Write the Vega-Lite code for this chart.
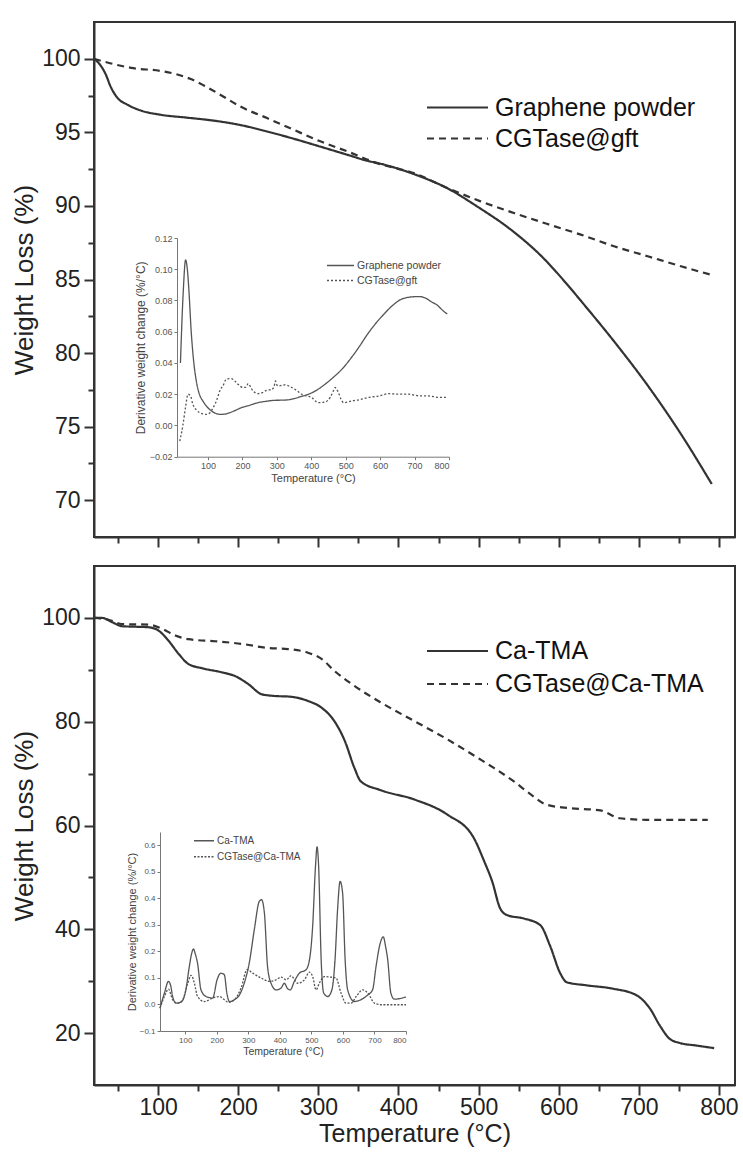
{
  "$schema": "https://vega.github.io/schema/vega-lite/v6.json",
  "padding": {"left": 10, "top": 21, "right": 5, "bottom": 0},
  "background": "white",
  "config": {
    "view": {"stroke": "#333", "strokeWidth": 2},
    "axis": {"grid": false, "labelFont": "Liberation Sans", "titleFont": "Liberation Sans", "titleFontWeight": "normal"}
  },
  "datasets": {
    "topMain": [
      {"series": "Graphene powder", "t": 20, "w": 100}, {"series": "Graphene powder", "t": 27.5, "w": 99.6}, {"series": "Graphene powder", "t": 35, "w": 98.9}, {"series": "Graphene powder", "t": 40, "w": 98.2}, {"series": "Graphene powder", "t": 50, "w": 97.3}, {"series": "Graphene powder", "t": 61, "w": 96.9}, {"series": "Graphene powder", "t": 77.5, "w": 96.5}, {"series": "Graphene powder", "t": 102.5, "w": 96.2}, {"series": "Graphene powder", "t": 136, "w": 96.0}, {"series": "Graphene powder", "t": 169, "w": 95.8}, {"series": "Graphene powder", "t": 202.5, "w": 95.5}, {"series": "Graphene powder", "t": 236, "w": 95.06}, {"series": "Graphene powder", "t": 269, "w": 94.57}, {"series": "Graphene powder", "t": 302.5, "w": 94.03}, {"series": "Graphene powder", "t": 336, "w": 93.48}, {"series": "Graphene powder", "t": 361, "w": 93.07}, {"series": "Graphene powder", "t": 377.5, "w": 92.87}, {"series": "Graphene powder", "t": 419, "w": 92.17}, {"series": "Graphene powder", "t": 461, "w": 91.2}, {"series": "Graphene powder", "t": 500, "w": 89.9}, {"series": "Graphene powder", "t": 540, "w": 88.4}, {"series": "Graphene powder", "t": 580, "w": 86.5}, {"series": "Graphene powder", "t": 610, "w": 84.7}, {"series": "Graphene powder", "t": 630, "w": 83.4}, {"series": "Graphene powder", "t": 669, "w": 80.8}, {"series": "Graphene powder", "t": 711, "w": 77.8}, {"series": "Graphene powder", "t": 752.5, "w": 74.5}, {"series": "Graphene powder", "t": 791, "w": 71.1},
      {"series": "CGTase@gft", "t": 20, "w": 100}, {"series": "CGTase@gft", "t": 40, "w": 99.7}, {"series": "CGTase@gft", "t": 69, "w": 99.36}, {"series": "CGTase@gft", "t": 102.5, "w": 99.18}, {"series": "CGTase@gft", "t": 123, "w": 98.95}, {"series": "CGTase@gft", "t": 140, "w": 98.64}, {"series": "CGTase@gft", "t": 157, "w": 98.19}, {"series": "CGTase@gft", "t": 177.5, "w": 97.56}, {"series": "CGTase@gft", "t": 202.5, "w": 96.76}, {"series": "CGTase@gft", "t": 236, "w": 95.97}, {"series": "CGTase@gft", "t": 269, "w": 95.18}, {"series": "CGTase@gft", "t": 302.5, "w": 94.39}, {"series": "CGTase@gft", "t": 336, "w": 93.71}, {"series": "CGTase@gft", "t": 373, "w": 92.91}, {"series": "CGTase@gft", "t": 419, "w": 92.23}, {"series": "CGTase@gft", "t": 461, "w": 91.22}, {"series": "CGTase@gft", "t": 502.5, "w": 90.31}, {"series": "CGTase@gft", "t": 544, "w": 89.52}, {"series": "CGTase@gft", "t": 586, "w": 88.77}, {"series": "CGTase@gft", "t": 627.5, "w": 88.05}, {"series": "CGTase@gft", "t": 669, "w": 87.26}, {"series": "CGTase@gft", "t": 711, "w": 86.58}, {"series": "CGTase@gft", "t": 752.5, "w": 85.9}, {"series": "CGTase@gft", "t": 792, "w": 85.29}
    ],
    "topInset": [
      {"series": "Graphene powder", "t": 20, "d": 0.040}, {"series": "Graphene powder", "t": 28, "d": 0.085}, {"series": "Graphene powder", "t": 35, "d": 0.106}, {"series": "Graphene powder", "t": 40, "d": 0.100}, {"series": "Graphene powder", "t": 45, "d": 0.085}, {"series": "Graphene powder", "t": 51, "d": 0.061}, {"series": "Graphene powder", "t": 58, "d": 0.042}, {"series": "Graphene powder", "t": 66, "d": 0.0285}, {"series": "Graphene powder", "t": 75, "d": 0.020}, {"series": "Graphene powder", "t": 85, "d": 0.0157}, {"series": "Graphene powder", "t": 97, "d": 0.012}, {"series": "Graphene powder", "t": 110, "d": 0.0093}, {"series": "Graphene powder", "t": 122, "d": 0.0078}, {"series": "Graphene powder", "t": 134, "d": 0.0071}, {"series": "Graphene powder", "t": 146, "d": 0.0072}, {"series": "Graphene powder", "t": 158, "d": 0.0078}, {"series": "Graphene powder", "t": 178, "d": 0.0095}, {"series": "Graphene powder", "t": 197, "d": 0.0114}, {"series": "Graphene powder", "t": 222, "d": 0.013}, {"series": "Graphene powder", "t": 246, "d": 0.0146}, {"series": "Graphene powder", "t": 270, "d": 0.0155}, {"series": "Graphene powder", "t": 294, "d": 0.0161}, {"series": "Graphene powder", "t": 320, "d": 0.0162}, {"series": "Graphene powder", "t": 343, "d": 0.0168}, {"series": "Graphene powder", "t": 370, "d": 0.0185}, {"series": "Graphene powder", "t": 392, "d": 0.020}, {"series": "Graphene powder", "t": 415, "d": 0.0225}, {"series": "Graphene powder", "t": 440, "d": 0.0264}, {"series": "Graphene powder", "t": 465, "d": 0.031}, {"series": "Graphene powder", "t": 489, "d": 0.036}, {"series": "Graphene powder", "t": 515, "d": 0.043}, {"series": "Graphene powder", "t": 538, "d": 0.050}, {"series": "Graphene powder", "t": 562, "d": 0.058}, {"series": "Graphene powder", "t": 586, "d": 0.065}, {"series": "Graphene powder", "t": 610, "d": 0.071}, {"series": "Graphene powder", "t": 635, "d": 0.0766}, {"series": "Graphene powder", "t": 664, "d": 0.081}, {"series": "Graphene powder", "t": 698, "d": 0.0824}, {"series": "Graphene powder", "t": 715, "d": 0.0825}, {"series": "Graphene powder", "t": 732, "d": 0.0815}, {"series": "Graphene powder", "t": 750, "d": 0.079}, {"series": "Graphene powder", "t": 766, "d": 0.077}, {"series": "Graphene powder", "t": 780, "d": 0.074}, {"series": "Graphene powder", "t": 795, "d": 0.0713},
      {"series": "CGTase@gft", "t": 18, "d": -0.010}, {"series": "CGTase@gft", "t": 27, "d": 0.000}, {"series": "CGTase@gft", "t": 35, "d": 0.012}, {"series": "CGTase@gft", "t": 42, "d": 0.020}, {"series": "CGTase@gft", "t": 49, "d": 0.019}, {"series": "CGTase@gft", "t": 56, "d": 0.0136}, {"series": "CGTase@gft", "t": 66, "d": 0.010}, {"series": "CGTase@gft", "t": 76, "d": 0.0082}, {"series": "CGTase@gft", "t": 95, "d": 0.0071}, {"series": "CGTase@gft", "t": 105, "d": 0.008}, {"series": "CGTase@gft", "t": 115, "d": 0.0114}, {"series": "CGTase@gft", "t": 125, "d": 0.016}, {"series": "CGTase@gft", "t": 134, "d": 0.022}, {"series": "CGTase@gft", "t": 145, "d": 0.026}, {"series": "CGTase@gft", "t": 153, "d": 0.0296}, {"series": "CGTase@gft", "t": 168, "d": 0.030}, {"series": "CGTase@gft", "t": 180, "d": 0.028}, {"series": "CGTase@gft", "t": 187, "d": 0.0264}, {"series": "CGTase@gft", "t": 202, "d": 0.0243}, {"series": "CGTase@gft", "t": 210, "d": 0.0245}, {"series": "CGTase@gft", "t": 217, "d": 0.0268}, {"series": "CGTase@gft", "t": 224, "d": 0.0245}, {"series": "CGTase@gft", "t": 231, "d": 0.022}, {"series": "CGTase@gft", "t": 246, "d": 0.0204}, {"series": "CGTase@gft", "t": 258, "d": 0.021}, {"series": "CGTase@gft", "t": 270, "d": 0.0225}, {"series": "CGTase@gft", "t": 285, "d": 0.023}, {"series": "CGTase@gft", "t": 292, "d": 0.025}, {"series": "CGTase@gft", "t": 296, "d": 0.0285}, {"series": "CGTase@gft", "t": 300, "d": 0.026}, {"series": "CGTase@gft", "t": 304, "d": 0.0253}, {"series": "CGTase@gft", "t": 324, "d": 0.026}, {"series": "CGTase@gft", "t": 343, "d": 0.0243}, {"series": "CGTase@gft", "t": 360, "d": 0.022}, {"series": "CGTase@gft", "t": 372, "d": 0.020}, {"series": "CGTase@gft", "t": 385, "d": 0.019}, {"series": "CGTase@gft", "t": 401, "d": 0.018}, {"series": "CGTase@gft", "t": 410, "d": 0.016}, {"series": "CGTase@gft", "t": 421, "d": 0.0146}, {"series": "CGTase@gft", "t": 440, "d": 0.015}, {"series": "CGTase@gft", "t": 455, "d": 0.018}, {"series": "CGTase@gft", "t": 464, "d": 0.022}, {"series": "CGTase@gft", "t": 469, "d": 0.0243}, {"series": "CGTase@gft", "t": 474, "d": 0.023}, {"series": "CGTase@gft", "t": 479, "d": 0.021}, {"series": "CGTase@gft", "t": 486, "d": 0.017}, {"series": "CGTase@gft", "t": 494, "d": 0.0146}, {"series": "CGTase@gft", "t": 518, "d": 0.0157}, {"series": "CGTase@gft", "t": 540, "d": 0.0165}, {"series": "CGTase@gft", "t": 567, "d": 0.018}, {"series": "CGTase@gft", "t": 600, "d": 0.019}, {"series": "CGTase@gft", "t": 625, "d": 0.0204}, {"series": "CGTase@gft", "t": 650, "d": 0.020}, {"series": "CGTase@gft", "t": 683, "d": 0.020}, {"series": "CGTase@gft", "t": 712, "d": 0.019}, {"series": "CGTase@gft", "t": 741, "d": 0.0189}, {"series": "CGTase@gft", "t": 770, "d": 0.018}, {"series": "CGTase@gft", "t": 795, "d": 0.018}
    ],
    "botMain": [
      {"series": "Ca-TMA", "t": 20, "w": 100}, {"series": "Ca-TMA", "t": 30, "w": 100}, {"series": "Ca-TMA", "t": 43, "w": 99.15}, {"series": "Ca-TMA", "t": 55, "w": 98.4}, {"series": "Ca-TMA", "t": 72, "w": 98.3}, {"series": "Ca-TMA", "t": 88, "w": 98.2}, {"series": "Ca-TMA", "t": 101, "w": 97.5}, {"series": "Ca-TMA", "t": 113, "w": 95.6}, {"series": "Ca-TMA", "t": 126, "w": 93.0}, {"series": "Ca-TMA", "t": 138, "w": 91.1}, {"series": "Ca-TMA", "t": 155, "w": 90.3}, {"series": "Ca-TMA", "t": 180, "w": 89.5}, {"series": "Ca-TMA", "t": 196, "w": 88.8}, {"series": "Ca-TMA", "t": 213, "w": 87.2}, {"series": "Ca-TMA", "t": 229, "w": 85.3}, {"series": "Ca-TMA", "t": 242, "w": 85.0}, {"series": "Ca-TMA", "t": 266, "w": 84.8}, {"series": "Ca-TMA", "t": 287, "w": 84.0}, {"series": "Ca-TMA", "t": 304, "w": 82.7}, {"series": "Ca-TMA", "t": 320, "w": 80.1}, {"series": "Ca-TMA", "t": 333, "w": 76.3}, {"series": "Ca-TMA", "t": 345, "w": 71.1}, {"series": "Ca-TMA", "t": 353, "w": 68.5}, {"series": "Ca-TMA", "t": 378, "w": 66.8}, {"series": "Ca-TMA", "t": 420, "w": 65.0}, {"series": "Ca-TMA", "t": 461, "w": 62.1}, {"series": "Ca-TMA", "t": 494, "w": 57.6}, {"series": "Ca-TMA", "t": 507, "w": 53.1}, {"series": "Ca-TMA", "t": 517, "w": 49.2}, {"series": "Ca-TMA", "t": 527, "w": 44.0}, {"series": "Ca-TMA", "t": 536, "w": 42.7}, {"series": "Ca-TMA", "t": 556, "w": 42.1}, {"series": "Ca-TMA", "t": 577, "w": 40.8}, {"series": "Ca-TMA", "t": 589, "w": 36.9}, {"series": "Ca-TMA", "t": 602, "w": 31.5}, {"series": "Ca-TMA", "t": 610, "w": 29.8}, {"series": "Ca-TMA", "t": 635, "w": 29.2}, {"series": "Ca-TMA", "t": 668, "w": 28.55}, {"series": "Ca-TMA", "t": 697, "w": 27.3}, {"series": "Ca-TMA", "t": 714, "w": 24.7}, {"series": "Ca-TMA", "t": 726, "w": 21.5}, {"series": "Ca-TMA", "t": 738.5, "w": 18.9}, {"series": "Ca-TMA", "t": 751, "w": 18.1}, {"series": "Ca-TMA", "t": 772, "w": 17.6}, {"series": "Ca-TMA", "t": 794, "w": 17.1},
      {"series": "CGTase@Ca-TMA", "t": 20, "w": 100}, {"series": "CGTase@Ca-TMA", "t": 39, "w": 99.6}, {"series": "CGTase@Ca-TMA", "t": 55, "w": 98.8}, {"series": "CGTase@Ca-TMA", "t": 88, "w": 98.7}, {"series": "CGTase@Ca-TMA", "t": 105, "w": 97.9}, {"series": "CGTase@Ca-TMA", "t": 121.5, "w": 96.6}, {"series": "CGTase@Ca-TMA", "t": 138, "w": 95.9}, {"series": "CGTase@Ca-TMA", "t": 171, "w": 95.5}, {"series": "CGTase@Ca-TMA", "t": 204, "w": 95.0}, {"series": "CGTase@Ca-TMA", "t": 237.5, "w": 94.2}, {"series": "CGTase@Ca-TMA", "t": 262, "w": 94.0}, {"series": "CGTase@Ca-TMA", "t": 287, "w": 93.3}, {"series": "CGTase@Ca-TMA", "t": 304, "w": 92.1}, {"series": "CGTase@Ca-TMA", "t": 320, "w": 89.8}, {"series": "CGTase@Ca-TMA", "t": 345, "w": 86.9}, {"series": "CGTase@Ca-TMA", "t": 378, "w": 83.7}, {"series": "CGTase@Ca-TMA", "t": 420, "w": 80.1}, {"series": "CGTase@Ca-TMA", "t": 461, "w": 76.6}, {"series": "CGTase@Ca-TMA", "t": 502.5, "w": 72.7}, {"series": "CGTase@Ca-TMA", "t": 519, "w": 71.1}, {"series": "CGTase@Ca-TMA", "t": 544, "w": 68.5}, {"series": "CGTase@Ca-TMA", "t": 565, "w": 66.0}, {"series": "CGTase@Ca-TMA", "t": 585, "w": 64.0}, {"series": "CGTase@Ca-TMA", "t": 610, "w": 63.4}, {"series": "CGTase@Ca-TMA", "t": 652, "w": 62.9}, {"series": "CGTase@Ca-TMA", "t": 676, "w": 61.4}, {"series": "CGTase@Ca-TMA", "t": 710, "w": 61.1}, {"series": "CGTase@Ca-TMA", "t": 786, "w": 61.1}
    ],
    "botInset": [
      {"series": "Ca-TMA", "t": 20, "d": -0.014}, {"series": "Ca-TMA", "t": 34, "d": 0.043}, {"series": "Ca-TMA", "t": 47, "d": 0.087}, {"series": "Ca-TMA", "t": 55, "d": 0.065}, {"series": "Ca-TMA", "t": 60, "d": 0.03}, {"series": "Ca-TMA", "t": 71, "d": 0.005}, {"series": "Ca-TMA", "t": 87, "d": 0.009}, {"series": "Ca-TMA", "t": 102, "d": 0.055}, {"series": "Ca-TMA", "t": 113, "d": 0.143}, {"series": "Ca-TMA", "t": 120, "d": 0.19}, {"series": "Ca-TMA", "t": 126, "d": 0.209}, {"series": "Ca-TMA", "t": 132, "d": 0.19}, {"series": "Ca-TMA", "t": 139, "d": 0.156}, {"series": "Ca-TMA", "t": 150, "d": 0.055}, {"series": "Ca-TMA", "t": 166, "d": 0.03}, {"series": "Ca-TMA", "t": 187, "d": 0.024}, {"series": "Ca-TMA", "t": 201, "d": 0.093}, {"series": "Ca-TMA", "t": 213, "d": 0.118}, {"series": "Ca-TMA", "t": 224, "d": 0.112}, {"series": "Ca-TMA", "t": 232, "d": 0.043}, {"series": "Ca-TMA", "t": 240, "d": 0.011}, {"series": "Ca-TMA", "t": 256, "d": 0.018}, {"series": "Ca-TMA", "t": 272, "d": 0.036}, {"series": "Ca-TMA", "t": 287, "d": 0.08}, {"series": "Ca-TMA", "t": 303, "d": 0.156}, {"series": "Ca-TMA", "t": 319, "d": 0.282}, {"series": "Ca-TMA", "t": 335, "d": 0.389}, {"series": "Ca-TMA", "t": 342, "d": 0.395}, {"series": "Ca-TMA", "t": 351, "d": 0.345}, {"series": "Ca-TMA", "t": 361, "d": 0.143}, {"series": "Ca-TMA", "t": 372, "d": 0.08}, {"series": "Ca-TMA", "t": 388, "d": 0.055}, {"series": "Ca-TMA", "t": 404, "d": 0.062}, {"series": "Ca-TMA", "t": 414, "d": 0.08}, {"series": "Ca-TMA", "t": 425, "d": 0.059}, {"series": "Ca-TMA", "t": 433, "d": 0.055}, {"series": "Ca-TMA", "t": 446, "d": 0.087}, {"series": "Ca-TMA", "t": 462, "d": 0.118}, {"series": "Ca-TMA", "t": 483, "d": 0.131}, {"series": "Ca-TMA", "t": 494, "d": 0.169}, {"series": "Ca-TMA", "t": 504, "d": 0.294}, {"series": "Ca-TMA", "t": 513, "d": 0.52}, {"series": "Ca-TMA", "t": 518, "d": 0.594}, {"series": "Ca-TMA", "t": 523, "d": 0.52}, {"series": "Ca-TMA", "t": 531, "d": 0.169}, {"series": "Ca-TMA", "t": 539, "d": 0.043}, {"series": "Ca-TMA", "t": 552, "d": 0.03}, {"series": "Ca-TMA", "t": 565, "d": 0.055}, {"series": "Ca-TMA", "t": 575, "d": 0.169}, {"series": "Ca-TMA", "t": 583, "d": 0.357}, {"series": "Ca-TMA", "t": 591, "d": 0.464}, {"series": "Ca-TMA", "t": 599, "d": 0.42}, {"series": "Ca-TMA", "t": 607, "d": 0.169}, {"series": "Ca-TMA", "t": 615, "d": 0.055}, {"series": "Ca-TMA", "t": 636, "d": 0.011}, {"series": "Ca-TMA", "t": 657, "d": 0.018}, {"series": "Ca-TMA", "t": 679, "d": 0.036}, {"series": "Ca-TMA", "t": 694, "d": 0.055}, {"series": "Ca-TMA", "t": 705, "d": 0.143}, {"series": "Ca-TMA", "t": 716, "d": 0.22}, {"series": "Ca-TMA", "t": 728, "d": 0.255}, {"series": "Ca-TMA", "t": 735, "d": 0.22}, {"series": "Ca-TMA", "t": 742, "d": 0.169}, {"series": "Ca-TMA", "t": 752, "d": 0.043}, {"series": "Ca-TMA", "t": 763, "d": 0.02}, {"series": "Ca-TMA", "t": 800, "d": 0.028},
      {"series": "CGTase@Ca-TMA", "t": 20, "d": -0.014}, {"series": "CGTase@Ca-TMA", "t": 34, "d": 0.03}, {"series": "CGTase@Ca-TMA", "t": 47, "d": 0.058}, {"series": "CGTase@Ca-TMA", "t": 60, "d": 0.018}, {"series": "CGTase@Ca-TMA", "t": 76, "d": 0.005}, {"series": "CGTase@Ca-TMA", "t": 92, "d": 0.018}, {"series": "CGTase@Ca-TMA", "t": 108, "d": 0.08}, {"series": "CGTase@Ca-TMA", "t": 119, "d": 0.11}, {"series": "CGTase@Ca-TMA", "t": 129, "d": 0.08}, {"series": "CGTase@Ca-TMA", "t": 139, "d": 0.03}, {"series": "CGTase@Ca-TMA", "t": 161, "d": 0.011}, {"series": "CGTase@Ca-TMA", "t": 187, "d": 0.024}, {"series": "CGTase@Ca-TMA", "t": 208, "d": 0.03}, {"series": "CGTase@Ca-TMA", "t": 224, "d": 0.018}, {"series": "CGTase@Ca-TMA", "t": 237, "d": 0.008}, {"series": "CGTase@Ca-TMA", "t": 256, "d": 0.018}, {"series": "CGTase@Ca-TMA", "t": 277, "d": 0.062}, {"series": "CGTase@Ca-TMA", "t": 296, "d": 0.131}, {"series": "CGTase@Ca-TMA", "t": 314, "d": 0.118}, {"series": "CGTase@Ca-TMA", "t": 340, "d": 0.1}, {"series": "CGTase@Ca-TMA", "t": 367, "d": 0.087}, {"series": "CGTase@Ca-TMA", "t": 388, "d": 0.093}, {"series": "CGTase@Ca-TMA", "t": 404, "d": 0.103}, {"series": "CGTase@Ca-TMA", "t": 420, "d": 0.093}, {"series": "CGTase@Ca-TMA", "t": 435, "d": 0.108}, {"series": "CGTase@Ca-TMA", "t": 457, "d": 0.08}, {"series": "CGTase@Ca-TMA", "t": 478, "d": 0.093}, {"series": "CGTase@Ca-TMA", "t": 494, "d": 0.122}, {"series": "CGTase@Ca-TMA", "t": 504, "d": 0.105}, {"series": "CGTase@Ca-TMA", "t": 515, "d": 0.055}, {"series": "CGTase@Ca-TMA", "t": 525, "d": 0.08}, {"series": "CGTase@Ca-TMA", "t": 541, "d": 0.105}, {"series": "CGTase@Ca-TMA", "t": 562, "d": 0.103}, {"series": "CGTase@Ca-TMA", "t": 578, "d": 0.1}, {"series": "CGTase@Ca-TMA", "t": 594, "d": 0.043}, {"series": "CGTase@Ca-TMA", "t": 610, "d": 0.005}, {"series": "CGTase@Ca-TMA", "t": 626, "d": 0.005}, {"series": "CGTase@Ca-TMA", "t": 642, "d": 0.03}, {"series": "CGTase@Ca-TMA", "t": 663, "d": 0.055}, {"series": "CGTase@Ca-TMA", "t": 679, "d": 0.043}, {"series": "CGTase@Ca-TMA", "t": 700, "d": 0.005}, {"series": "CGTase@Ca-TMA", "t": 721, "d": -0.001}, {"series": "CGTase@Ca-TMA", "t": 800, "d": -0.001}
    ]
  },
  "vconcat": [
    {
      "width": 641,
      "height": 515,
      "resolve": {"scale": {"x": "independent", "y": "independent", "strokeDash": "independent"}, "axis": {"x": "independent", "y": "independent"}, "legend": {"strokeDash": "independent"}},
      "layer": [
        {
          "layer": [
            {
              "data": {"name": "topMain"},
              "mark": {"type": "line", "stroke": "#333", "strokeWidth": 2.2, "interpolate": "monotone"},
              "encoding": {
                "x": {"field": "t", "type": "quantitative", "scale": {"domain": [20, 820], "nice": false, "zero": false},
                  "axis": {"title": null, "labels": false, "values": [50,100,150,200,250,300,350,400,450,500,550,600,650,700,750,800], "tickSize": {"condition": {"test": "datum.value % 100 === 0", "value": 10}, "value": 6}, "tickWidth": 2, "tickColor": "#333", "domainColor": "#333", "domainWidth": 2}},
                "y": {"field": "w", "type": "quantitative", "scale": {"domain": [67.5, 102.5], "nice": false, "zero": false},
                  "axis": {"title": "Weight Loss (%)", "titleFontSize": 26, "titleColor": "#222", "titlePadding": 4, "values": [70,72.5,75,77.5,80,82.5,85,87.5,90,92.5,95,97.5,100], "labelExpr": "datum.value % 5 === 0 ? datum.label : ''", "labelFontSize": 23, "labelColor": "#222", "labelPadding": 4, "tickSize": {"condition": {"test": "datum.value % 5 === 0", "value": 10}, "value": 6}, "tickWidth": 2, "tickColor": "#333", "domainColor": "#333", "domainWidth": 2}},
                "strokeDash": {"field": "series", "type": "nominal", "scale": {"domain": ["Graphene powder", "CGTase@gft"], "range": [[1, 0], [7, 5]]},
                  "legend": {"orient": "none", "legendX": 332, "legendY": 70, "title": null, "symbolType": "stroke", "symbolSize": 3721, "symbolStrokeWidth": 2, "symbolStrokeColor": "#333", "clipHeight": 31, "rowPadding": 0, "padding": 0, "labelFontSize": 25, "labelFont": "Liberation Sans", "labelColor": "#111", "labelOffset": 6, "labelLimit": 400}}
              }
            },
            {
              "mark": {"type": "text", "text": "a.", "fontSize": 25, "font": "Liberation Sans", "align": "left", "baseline": "alphabetic", "color": "#111"},
              "encoding": {
                "x": {"datum": 224, "type": "quantitative"},
                "y": {"datum": 99.48, "type": "quantitative"}
              }
            }
          ]
        },
        {
          "layer": [
            {
              "mark": {"type": "rect", "filled": false, "stroke": "#777", "strokeWidth": 1},
              "encoding": {
                "x": {"datum": 10, "type": "quantitative"},
                "x2": {"datum": 800},
                "y": {"datum": -0.02, "type": "quantitative"},
                "y2": {"datum": 0.12}
              }
            },
            {
              "data": {"name": "topInset"},
              "mark": {"type": "line", "stroke": "#555", "strokeWidth": 1.3, "interpolate": "monotone"},
              "encoding": {
                "x": {"field": "t", "type": "quantitative", "scale": {"domain": [10, 800], "range": [83, 355], "nice": false, "zero": false},
                  "axis": {"orient": "bottom", "offset": -80.3, "title": "Temperature (°C)", "titleFontSize": 11, "titleColor": "#444", "titlePadding": 2, "values": [100,200,300,400,500,600,700,800], "labelFontSize": 9, "labelColor": "#555", "labelPadding": 2, "tickSize": 3, "tickColor": "#777", "domainColor": "#777", "domainWidth": 1}},
                "y": {"field": "d", "type": "quantitative", "scale": {"domain": [-0.02, 0.12], "range": [434.7, 216], "nice": false, "zero": false},
                  "axis": {"orient": "left", "offset": -83, "title": "Derivative weight change (%/°C)", "titleFontSize": 12, "titleColor": "#444", "titlePadding": 2, "values": [-0.02,0,0.02,0.04,0.06,0.08,0.1,0.12], "format": ".2f", "labelFontSize": 9, "labelColor": "#555", "labelPadding": 2, "tickSize": 3, "tickColor": "#777", "domainColor": "#777", "domainWidth": 1}},
                "strokeDash": {"field": "series", "type": "nominal", "scale": {"domain": ["Graphene powder", "CGTase@gft"], "range": [[1, 0], [2, 2]]},
                  "legend": {"orient": "none", "legendX": 232, "legendY": 236, "title": null, "symbolType": "stroke", "symbolSize": 729, "symbolStrokeWidth": 1.3, "symbolStrokeColor": "#555", "clipHeight": 15, "rowPadding": 0, "padding": 0, "labelFontSize": 10.5, "labelFont": "Liberation Sans", "labelColor": "#444", "labelOffset": 2, "labelLimit": 300}}
              }
            }
          ]
        }
      ]
    },
    {
      "width": 641,
      "height": 519,
      "resolve": {"scale": {"x": "independent", "y": "independent", "strokeDash": "independent"}, "axis": {"x": "independent", "y": "independent"}, "legend": {"strokeDash": "independent"}},
      "layer": [
        {
          "layer": [
            {
              "data": {"name": "botMain"},
              "mark": {"type": "line", "stroke": "#333", "strokeWidth": 2.2, "interpolate": "monotone"},
              "encoding": {
                "x": {"field": "t", "type": "quantitative", "scale": {"domain": [20, 820], "nice": false, "zero": false},
                  "axis": {"title": "Temperature (°C)", "titleFontSize": 25, "titleColor": "#222", "titlePadding": 2, "values": [50,100,150,200,250,300,350,400,450,500,550,600,650,700,750,800], "labelExpr": "datum.value % 100 === 0 ? datum.label : ''", "labelFontSize": 23, "labelColor": "#222", "labelPadding": 1, "tickSize": {"condition": {"test": "datum.value % 100 === 0", "value": 10}, "value": 6}, "tickWidth": 2, "tickColor": "#333", "domainColor": "#333", "domainWidth": 2}},
                "y": {"field": "w", "type": "quantitative", "scale": {"domain": [10, 110], "nice": false, "zero": false},
                  "axis": {"title": "Weight Loss (%)", "titleFontSize": 26, "titleColor": "#222", "titlePadding": 4, "values": [20,30,40,50,60,70,80,90,100], "labelExpr": "datum.value % 20 === 0 ? datum.label : ''", "labelFontSize": 23, "labelColor": "#222", "labelPadding": 4, "tickSize": {"condition": {"test": "datum.value % 20 === 0", "value": 10}, "value": 6}, "tickWidth": 2, "tickColor": "#333", "domainColor": "#333", "domainWidth": 2}},
                "strokeDash": {"field": "series", "type": "nominal", "scale": {"domain": ["Ca-TMA", "CGTase@Ca-TMA"], "range": [[1, 0], [7, 5]]},
                  "legend": {"orient": "none", "legendX": 332, "legendY": 68.5, "title": null, "symbolType": "stroke", "symbolSize": 3721, "symbolStrokeWidth": 2, "symbolStrokeColor": "#333", "clipHeight": 33, "rowPadding": 0, "padding": 0, "labelFontSize": 25, "labelFont": "Liberation Sans", "labelColor": "#111", "labelOffset": 6, "labelLimit": 400}}
              }
            },
            {
              "mark": {"type": "text", "text": "b.", "fontSize": 25, "font": "Liberation Sans", "align": "left", "baseline": "alphabetic", "color": "#111"},
              "encoding": {
                "x": {"datum": 231.7, "type": "quantitative"},
                "y": {"datum": 101.4, "type": "quantitative"}
              }
            }
          ]
        },
        {
          "layer": [
            {
              "mark": {"type": "rect", "filled": false, "stroke": "#777", "strokeWidth": 1},
              "encoding": {
                "x": {"datum": 20, "type": "quantitative"},
                "x2": {"datum": 800},
                "y": {"datum": -0.1, "type": "quantitative"},
                "y2": {"datum": 0.65}
              }
            },
            {
              "data": {"name": "botInset"},
              "mark": {"type": "line", "stroke": "#555", "strokeWidth": 1.3, "interpolate": "monotone"},
              "encoding": {
                "x": {"field": "t", "type": "quantitative", "scale": {"domain": [20, 800], "range": [66, 312], "nice": false, "zero": false},
                  "axis": {"orient": "bottom", "offset": -54, "title": "Temperature (°C)", "titleFontSize": 10.5, "titleColor": "#444", "titlePadding": 2, "values": [100,200,300,400,500,600,700,800], "labelFontSize": 8, "labelColor": "#555", "labelPadding": 2, "tickSize": 3, "tickColor": "#777", "domainColor": "#777", "domainWidth": 1}},
                "y": {"field": "d", "type": "quantitative", "scale": {"domain": [-0.1, 0.65], "range": [465, 266], "nice": false, "zero": false},
                  "axis": {"orient": "left", "offset": -66, "title": "Derivative weight change (%/°C)", "titleFontSize": 11, "titleColor": "#444", "titlePadding": 2, "values": [-0.1,0,0.1,0.2,0.3,0.4,0.5,0.6], "format": ".1f", "labelFontSize": 8, "labelColor": "#555", "labelPadding": 2, "tickSize": 3, "tickColor": "#777", "domainColor": "#777", "domainWidth": 1}},
                "strokeDash": {"field": "series", "type": "nominal", "scale": {"domain": ["Ca-TMA", "CGTase@Ca-TMA"], "range": [[1, 0], [2, 1.5]]},
                  "legend": {"orient": "none", "legendX": 99, "legendY": 267, "title": null, "symbolType": "stroke", "symbolSize": 400, "symbolStrokeWidth": 1.3, "symbolStrokeColor": "#555", "clipHeight": 15.5, "rowPadding": 0, "padding": 0, "labelFontSize": 10, "labelFont": "Liberation Sans", "labelColor": "#444", "labelOffset": 2, "labelLimit": 300}}
              }
            }
          ]
        }
      ]
    }
  ],
  "spacing": 29,
  "bounds": "flush"
}
